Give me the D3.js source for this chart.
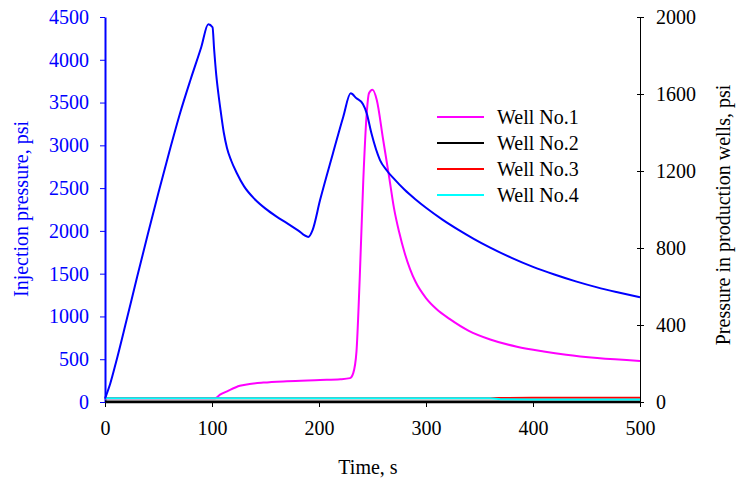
<!DOCTYPE html>
<html>
<head>
<meta charset="utf-8">
<script src="https://cdn.jsdelivr.net/npm/d3@7"></script>
<style>
  body { margin: 0; background: #fff; }
  text { font-family: "Liberation Serif", "Times New Roman", serif; }
</style>
</head>
<body>
<div id="chart"></div>
<script>
// injection pressure (left axis)
let injTime = [0, 5, 10, 20, 30, 40, 50, 60, 70, 80, 90, 96.5, 100.5, 102, 104, 106, 108, 111, 114, 118, 123, 130, 140, 150, 160, 170, 180, 190, 194, 201, 213, 222.7, 229.6, 235, 241, 244.6, 249, 257, 263, 270, 280, 290, 300, 315, 330, 345, 360, 380, 400, 420, 440, 460, 480, 500];
let injPressure = [40, 220, 450, 950, 1460, 1960, 2450, 2920, 3370, 3770, 4150, 4415, 4380, 4120, 3820, 3600, 3410, 3150, 2970, 2820, 2680, 2520, 2370, 2260, 2170, 2090, 2010, 1930, 2010, 2360, 2905, 3335, 3608, 3550, 3483, 3374, 3140, 2828, 2712, 2610, 2480, 2370, 2270, 2135, 2015, 1905, 1805, 1685, 1580, 1490, 1410, 1340, 1280, 1224];

// well No.1 (right axis)
let well1Time = [0, 103, 107.5, 115, 126, 137, 148, 170, 201, 220, 229, 232, 235, 238, 241.4, 244.6, 246.7, 250, 254, 260, 266, 270, 275, 280, 285, 290, 300, 310, 322, 340, 360, 385, 410, 431, 460, 500];
let well1Pressure = [20, 20, 38, 58, 84, 95, 101, 108, 114, 118, 124, 150, 260, 634, 1153, 1500, 1604, 1622, 1569, 1361, 1153, 1010, 880, 775, 692, 627, 540, 482, 432, 370, 325, 287, 262, 245, 228, 213];

// wells No.2 - No.4 (right axis)
let wellTime = [0, 100, 200, 300, 360, 370, 400, 500];
let well2Pressure = [3, 3, 3, 3, 3, 3, 3, 3];
let well3Pressure = [20, 20, 20, 20, 20, 21, 22, 22];
let well4Pressure = [20, 20, 20, 20, 19, 14, 13, 13];

let xTicks = [0, 100, 200, 300, 400, 500];
let leftTicks = [0, 500, 1000, 1500, 2000, 2500, 3000, 3500, 4000, 4500];
let rightTicks = [0, 400, 800, 1200, 1600, 2000];

let legendNames = ["Well No.1", "Well No.2", "Well No.3", "Well No.4"];
let legendColors = ["#ff00ff", "#000000", "#ff0000", "#00ffff"];

let w = 737;
let h = 481;

let viz = d3.select("#chart")
  .append("svg")
    .attr("width", w)
    .attr("height", h);

let x = d3.scaleLinear().domain([0, 500]).range([105, 640]);
let yLeft = d3.scaleLinear().domain([0, 4500]).range([402, 17]);
let yRight = d3.scaleLinear().domain([0, 2000]).range([402, 17]);

///////////////////////////////////////////////////////////////////////////
// axes

let xAxis = viz.append("g")
  .attr("transform", "translate(0,402)")
  .call(d3.axisBottom(x).tickValues(xTicks).tickFormat(d3.format("d")).tickSize(5).tickPadding(14).tickSizeOuter(0));
xAxis.select(".domain").attr("stroke", "#000").attr("stroke-width", 1.5);
xAxis.selectAll("text").attr("font-size", 20).attr("fill", "#000");

let leftAxis = viz.append("g")
  .attr("transform", "translate(105,0)")
  .call(d3.axisLeft(yLeft).tickValues(leftTicks).tickFormat(d3.format("d")).tickSize(5).tickPadding(11).tickSizeOuter(0));
leftAxis.select(".domain").attr("stroke", "#0000ff").attr("stroke-width", 2);
leftAxis.selectAll(".tick line").attr("stroke", "#0000ff");
leftAxis.selectAll("text").attr("font-size", 20).attr("fill", "#0000ff");

let rightAxis = viz.append("g")
  .attr("transform", "translate(640,0)")
  .call(d3.axisRight(yRight).tickValues(rightTicks).tickFormat(d3.format("d")).tickSize(4).tickPadding(12).tickSizeOuter(0));
rightAxis.select(".domain").attr("stroke", "#000");
rightAxis.selectAll(".tick line").attr("x1", -3);
rightAxis.selectAll("text").attr("font-size", 20).attr("fill", "#000");

// axis titles
viz.append("text")
  .attr("x", 368)
  .attr("y", 474)
  .attr("text-anchor", "middle")
  .attr("font-size", 20)
  .text("Time, s");

viz.append("text")
  .attr("transform", "translate(28,209) rotate(-90)")
  .attr("text-anchor", "middle")
  .attr("font-size", 20)
  .attr("fill", "#0000ff")
  .text("Injection pressure, psi");

viz.append("text")
  .attr("transform", "translate(730,215) rotate(-90)")
  .attr("text-anchor", "middle")
  .attr("font-size", 20)
  .text("Pressure in production wells, psi");

///////////////////////////////////////////////////////////////////////////
// lines

function drawLine(times, values, yScale, color){
  let pts = times.map(function(t, i){ return [t, values[i]]; });
  let line = d3.line()
    .x(function(d){ return x(d[0]); })
    .y(function(d){ return yScale(d[1]); })
    .curve(d3.curveMonotoneX);
  viz.append("path")
    .datum(pts)
    .attr("d", line)
    .attr("fill", "none")
    .attr("stroke", color)
    .attr("stroke-width", 2);
}

drawLine(well1Time, well1Pressure, yRight, legendColors[0]);
drawLine(wellTime, well2Pressure, yRight, legendColors[1]);
drawLine(wellTime, well3Pressure, yRight, legendColors[2]);
drawLine(wellTime, well4Pressure, yRight, legendColors[3]);
drawLine(injTime, injPressure, yLeft, "#0000ff");

///////////////////////////////////////////////////////////////////////////
// legend

let legend = viz.selectAll(".legend").data(legendNames)
  .enter()
    .append("g")
    .attr("class", "legend")
    .attr("transform", function(d, i){ return "translate(437," + (117 + 26 * i) + ")"; });

legend.append("line")
  .attr("x1", 0)
  .attr("x2", 47)
  .attr("y1", 0)
  .attr("y2", 0)
  .attr("stroke", function(d, i){ return legendColors[i]; })
  .attr("stroke-width", 2);

legend.append("text")
  .attr("x", 60)
  .attr("y", 7)
  .attr("font-size", 20)
  .text(function(d){ return d; });
</script>
</body>
</html>
